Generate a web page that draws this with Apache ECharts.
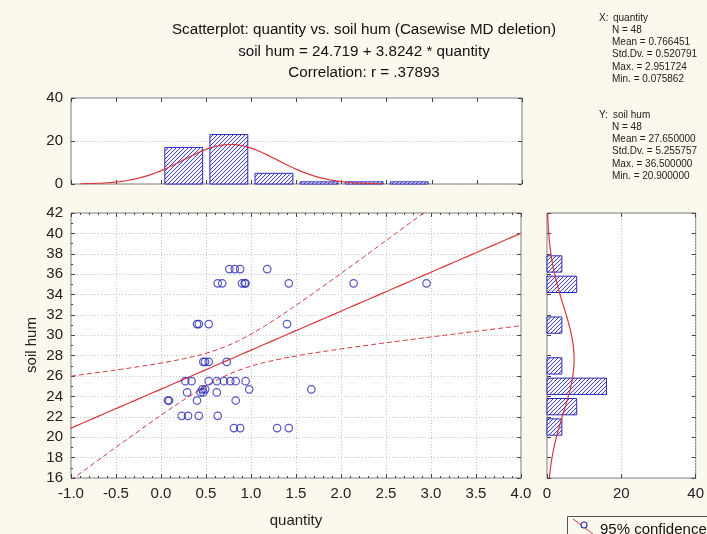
<!DOCTYPE html>
<html>
<head>
<meta charset="utf-8">
<script src="https://cdn.jsdelivr.net/npm/echarts@6/dist/echarts.min.js"></script>
<style>
  html, body { margin: 0; padding: 0; background: #fbf8ee; }
  #chart { width: 707px; height: 534px; }
</style>
</head>
<body>
<div id="chart"></div>
<script>
// ---- observations (48 cases) ----
const quantity = [
  0.81, 0.88, 1.29, 1.42,
  0.23, 0.30, 0.42, 0.63,
  0.076, 0.09, 0.40, 0.83,
  0.29, 0.44, 0.47, 0.62,
  0.46, 0.49, 0.98, 1.67,
  0.27, 0.34, 0.53, 0.62, 0.70, 0.77, 0.83, 0.94,
  0.47, 0.49, 0.53, 0.73,
  0.40, 0.42, 0.53, 1.40,
  0.63, 0.68, 0.90, 0.93, 0.94, 1.42, 2.14, 2.95,
  0.76, 0.82, 0.88, 1.18
];
const soilHum = [
  20.9, 20.9, 20.9, 20.9,
  22.1, 22.1, 22.1, 22.1,
  23.6, 23.6, 23.6, 23.6,
  24.4, 24.4, 24.4, 24.4,
  24.7, 24.7, 24.7, 24.7,
  25.5, 25.5, 25.5, 25.5, 25.5, 25.5, 25.5, 25.5,
  27.4, 27.4, 27.4, 27.4,
  31.1, 31.1, 31.1, 31.1,
  35.1, 35.1, 35.1, 35.1, 35.1, 35.1, 35.1, 35.1,
  36.5, 36.5, 36.5, 36.5
];

// ---- marginal histograms ----
const qtyBinCenters = [0.25, 0.75, 1.25, 1.75, 2.25, 2.75];
const qtyBinCounts  = [17, 23, 5, 1, 1, 1];
const humBinCenters = [21, 23, 25, 27, 29, 31, 33, 35, 37];
const humBinCounts  = [4, 8, 16, 4, 0, 4, 0, 8, 4];

// ---- summary statistics and fit ----
const nCases = 48;
const meanX = 0.766451, sdX = 0.520791, maxX = 2.951724, minX = 0.075862;
const meanY = 27.650000, sdY = 5.255757, maxY = 36.500000, minY = 20.900000;
const intercept = 24.719, slope = 3.8242, corrR = 0.37893;
const tCrit = 2.0129; // t(0.975, n-2)

// ---- tick labels ----
const qtyTicks = ['-1.0', '-0.5', '0.0', '0.5', '1.0', '1.5', '2.0', '2.5', '3.0', '3.5', '4.0'];
const humTicks = ['16', '18', '20', '22', '24', '26', '28', '30', '32', '34', '36', '38', '40', '42'];
const countTicks = ['0', '20', '40'];

const titleLines = [
  'Scatterplot: quantity vs. soil hum (Casewise MD deletion)',
  'soil hum = 24.719 + 3.8242 * quantity',
  'Correlation: r = .37893'
];
const statsX = ['N = 48', 'Mean = 0.766451', 'Std.Dv. = 0.520791', 'Max. = 2.951724', 'Min. = 0.075862'];
const statsY = ['N = 48', 'Mean = 27.650000', 'Std.Dv. = 5.255757', 'Max. = 36.500000', 'Min. = 20.900000'];

// ---------------------------------------------------------------
const FONT = '"Liberation Sans", Arial, sans-serif';
const RED = '#d8363c';
const BLUE = '#2a2ab8';
const GRID_BORDER = '#7a7a7a';
const TICK = '#444';

function hatchCanvas() {
  const c = document.createElement('canvas');
  c.width = 4; c.height = 4;
  const g = c.getContext('2d');
  g.fillStyle = '#f4f4ff';
  g.fillRect(0, 0, 4, 4);
  g.strokeStyle = '#4444b8';
  g.lineWidth = 1;
  g.beginPath();
  g.moveTo(0, 4); g.lineTo(4, 0);
  g.moveTo(-1, 1); g.lineTo(1, -1);
  g.moveTo(3, 5); g.lineTo(5, 3);
  g.stroke();
  return c;
}
const hatch = { image: hatchCanvas(), repeat: 'repeat' };

// fitted normal curves over the histograms
function normalCurve(mean, sd, scale, from, to, step) {
  const pts = [];
  for (let v = from; v <= to + 1e-9; v += step) {
    const z = (v - mean) / sd;
    pts.push([v, scale * Math.exp(-0.5 * z * z) / (sd * Math.sqrt(2 * Math.PI))]);
  }
  return pts;
}
const qtyCurve = normalCurve(meanX, sdX, nCases * 0.5, -0.9, 2.46, 0.02);
const humCurve = normalCurve(meanY, sdY, nCases * 2, 16, 42, 0.1).map(p => [p[1], p[0]]);

// regression line with 95% confidence band of the mean
const sxx = (nCases - 1) * sdX * sdX;
const sRes = Math.sqrt((nCases - 1) * sdY * sdY * (1 - corrR * corrR) / (nCases - 2));
const fitLine = [], upperBand = [], lowerBand = [];
for (let x = -1; x <= 4.0001; x += 0.05) {
  const yHat = intercept + slope * x;
  const half = tCrit * sRes * Math.sqrt(1 / nCases + (x - meanX) * (x - meanX) / sxx);
  fitLine.push([x, yHat]);
  upperBand.push([x, yHat + half]);
  lowerBand.push([x, yHat - half]);
}

const scatterData = quantity.map((q, i) => [q, soilHum[i]]);
const qtyHistData = qtyBinCenters.map((c, i) => [c, qtyBinCounts[i]]);
const humHistData = humBinCenters.map((c, i) => [humBinCounts[i], c]);

const qtyBarHalf = 0.21;
const humBarHalf = 0.8;

const labelStyle = { color: '#222', fontFamily: FONT, fontSize: 15 };
const dotted = { show: true, lineStyle: { color: '#c4c4c4', type: [1, 2], width: 1 } };

function plainAxis(extra) {
  return Object.assign({
    type: 'value',
    axisLine: { show: false, onZero: false },
    axisTick: { show: true, inside: true, length: 4, lineStyle: { color: TICK } },
    axisLabel: { show: false },
    splitLine: { show: false }
  }, extra);
}

const qtyAxisBase = { min: -1, max: 4, interval: 0.5 };
const humAxisBase = { min: 16, max: 42, interval: 2 };
const cntAxisBase = { min: 0, max: 40, interval: 20 };
const minorQty = { show: true, splitNumber: 5, length: 2, lineStyle: { color: TICK } };
const minorHum = { show: true, splitNumber: 2, length: 2, lineStyle: { color: TICK } };

const option = {
  animation: false,
  backgroundColor: '#fbf8ee',
  grid: [
    { left: 71, top: 98, width: 451, height: 86, show: true, backgroundColor: '#fff', borderColor: GRID_BORDER, borderWidth: 1 },
    { left: 71, top: 213, width: 450, height: 265, show: true, backgroundColor: '#fff', borderColor: GRID_BORDER, borderWidth: 1 },
    { left: 547, top: 213, width: 149, height: 265, show: true, backgroundColor: '#fff', borderColor: GRID_BORDER, borderWidth: 1 }
  ],
  xAxis: [
    plainAxis(Object.assign({ gridIndex: 0, position: 'bottom' }, qtyAxisBase)),
    plainAxis(Object.assign({ gridIndex: 0, position: 'top' }, qtyAxisBase)),
    plainAxis(Object.assign({
      gridIndex: 1, position: 'bottom',
      axisLabel: Object.assign({ show: true, margin: 8, formatter: v => qtyTicks[Math.round((v + 1) * 2)] }, labelStyle),
      minorTick: minorQty,
      splitLine: dotted
    }, qtyAxisBase)),
    plainAxis(Object.assign({ gridIndex: 1, position: 'top', minorTick: minorQty }, qtyAxisBase)),
    plainAxis(Object.assign({
      gridIndex: 2, position: 'bottom',
      axisLabel: Object.assign({ show: true, margin: 8, formatter: v => countTicks[Math.round(v / 20)] }, labelStyle),
      splitLine: dotted
    }, cntAxisBase)),
    plainAxis(Object.assign({ gridIndex: 2, position: 'top' }, cntAxisBase))
  ],
  yAxis: [
    plainAxis(Object.assign({
      gridIndex: 0, position: 'left',
      axisLabel: Object.assign({ show: true, margin: 8, formatter: v => countTicks[Math.round(v / 20)] }, labelStyle),
      splitLine: dotted
    }, cntAxisBase)),
    plainAxis(Object.assign({ gridIndex: 0, position: 'right' }, cntAxisBase)),
    plainAxis(Object.assign({
      gridIndex: 1, position: 'left',
      axisLabel: Object.assign({ show: true, margin: 8, formatter: v => humTicks[Math.round((v - 16) / 2)] }, labelStyle),
      minorTick: minorHum,
      splitLine: dotted
    }, humAxisBase)),
    plainAxis(Object.assign({ gridIndex: 1, position: 'right' }, humAxisBase)),
    plainAxis(Object.assign({ gridIndex: 2, position: 'left' }, humAxisBase)),
    plainAxis(Object.assign({ gridIndex: 2, position: 'right' }, humAxisBase))
  ],
  series: [
    {
      type: 'custom', xAxisIndex: 0, yAxisIndex: 0, data: qtyHistData,
      encode: { x: 0, y: 1 },
      renderItem: (params, api) => {
        const c = api.value(0), n = api.value(1);
        const a = api.coord([c - qtyBarHalf, 0]);
        const b = api.coord([c + qtyBarHalf, n]);
        return { type: 'rect', shape: { x: a[0], y: b[1], width: b[0] - a[0], height: a[1] - b[1] },
                 style: { fill: hatch, stroke: BLUE, lineWidth: 1 } };
      }
    },
    {
      type: 'line', xAxisIndex: 0, yAxisIndex: 0, data: qtyCurve, showSymbol: false,
      lineStyle: { color: RED, width: 1.2 }, z: 5
    },
    {
      type: 'line', xAxisIndex: 2, yAxisIndex: 2, data: upperBand, showSymbol: false,
      lineStyle: { color: RED, width: 1, type: [5, 3] }, clip: true
    },
    {
      type: 'line', xAxisIndex: 2, yAxisIndex: 2, data: lowerBand, showSymbol: false,
      lineStyle: { color: RED, width: 1, type: [5, 3] }, clip: true
    },
    {
      type: 'line', xAxisIndex: 2, yAxisIndex: 2, data: fitLine, showSymbol: false,
      lineStyle: { color: RED, width: 1.2 }, clip: true
    },
    {
      type: 'scatter', xAxisIndex: 2, yAxisIndex: 2, data: scatterData,
      symbol: 'circle', symbolSize: 7.5,
      itemStyle: { color: 'rgba(255,255,255,0)', borderColor: BLUE, borderWidth: 1.2 }, z: 6
    },
    {
      type: 'custom', xAxisIndex: 4, yAxisIndex: 4, data: humHistData,
      encode: { x: 0, y: 1 },
      renderItem: (params, api) => {
        const n = api.value(0), c = api.value(1);
        if (!n) return null;
        const a = api.coord([0, c + humBarHalf]);
        const b = api.coord([n, c - humBarHalf]);
        return { type: 'rect', shape: { x: a[0], y: a[1], width: b[0] - a[0], height: b[1] - a[1] },
                 style: { fill: hatch, stroke: BLUE, lineWidth: 1 } };
      }
    },
    {
      type: 'line', xAxisIndex: 4, yAxisIndex: 4, data: humCurve, showSymbol: false,
      lineStyle: { color: RED, width: 1.2 }, z: 5
    }
  ],
  graphic: [
    ...titleLines.map((t, i) => ({
      type: 'text', x: 364, y: 30 + i * 21.5,
      style: { text: t, fill: '#111', font: '15.2px ' + FONT, textAlign: 'center', textVerticalAlign: 'middle' }
    })),
    { type: 'text', x: 599, y: 18, style: { text: 'X:', fill: '#222', font: '10px ' + FONT, textVerticalAlign: 'middle' } },
    { type: 'text', x: 613, y: 18, style: { text: 'quantity', fill: '#222', font: '10px ' + FONT, textVerticalAlign: 'middle' } },
    ...statsX.map((t, i) => ({
      type: 'text', x: 612, y: 30.3 + i * 12.2,
      style: { text: t, fill: '#222', font: '10px ' + FONT, textVerticalAlign: 'middle' }
    })),
    { type: 'text', x: 599, y: 115, style: { text: 'Y:', fill: '#222', font: '10px ' + FONT, textVerticalAlign: 'middle' } },
    { type: 'text', x: 613, y: 115, style: { text: 'soil hum', fill: '#222', font: '10px ' + FONT, textVerticalAlign: 'middle' } },
    ...statsY.map((t, i) => ({
      type: 'text', x: 612, y: 127.3 + i * 12.2,
      style: { text: t, fill: '#222', font: '10px ' + FONT, textVerticalAlign: 'middle' }
    })),
    { type: 'text', x: 32, y: 345, rotation: Math.PI / 2,
      style: { text: 'soil hum', fill: '#222', font: '15px ' + FONT, textAlign: 'center', textVerticalAlign: 'middle' } },
    { type: 'text', x: 296, y: 521,
      style: { text: 'quantity', fill: '#222', font: '15px ' + FONT, textAlign: 'center', textVerticalAlign: 'middle' } },
    // legend box
    { type: 'rect', shape: { x: 567.5, y: 516.5, width: 160, height: 40 },
      style: { fill: '#fbf8ee', stroke: '#555', lineWidth: 1 } },
    { type: 'line', shape: { x1: 573, y1: 519, x2: 593, y2: 534 }, style: { stroke: RED, lineWidth: 1 } },
    { type: 'circle', shape: { cx: 584, cy: 525, r: 3 }, style: { fill: '#fbf8ee', stroke: BLUE, lineWidth: 1.1 } },
    { type: 'text', x: 600, y: 530,
      style: { text: '95% confidence', fill: '#111', font: '15px ' + FONT, textVerticalAlign: 'middle' } }
  ]
};

const chart = echarts.init(document.getElementById('chart'), null, { renderer: 'canvas' });
chart.setOption(option);
</script>
</body>
</html>
